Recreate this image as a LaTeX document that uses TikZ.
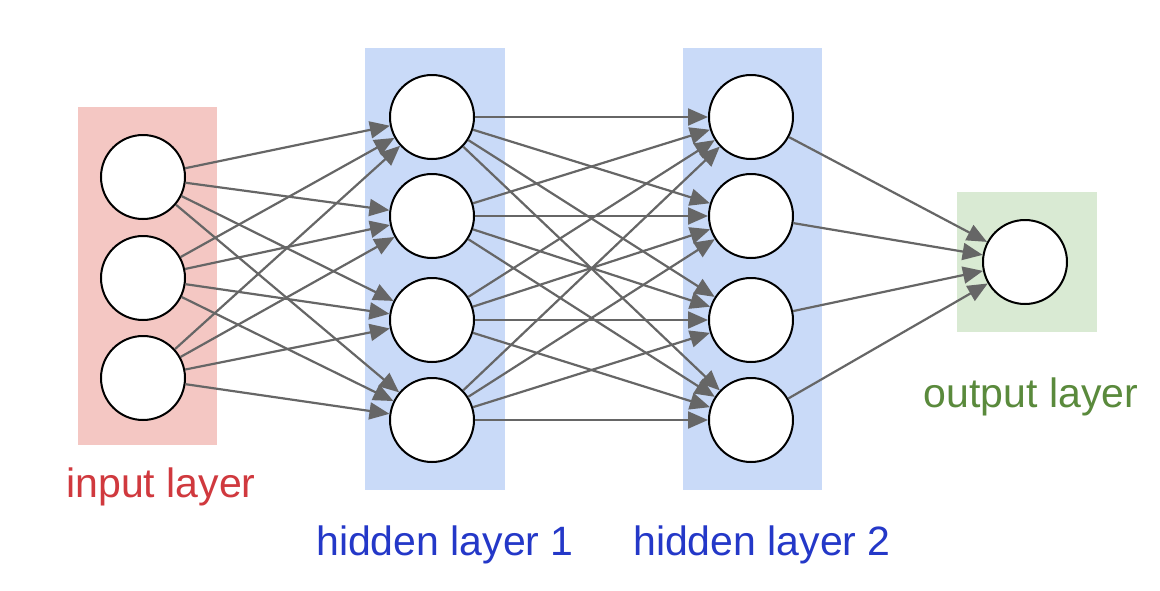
\documentclass[tikz,border=0pt]{standalone}
\usepackage{fontspec}
\setmainfont{Liberation Sans}
\usetikzlibrary{arrows.meta}
\definecolor{pinkbg}{HTML}{F4C7C3}
\definecolor{bluebg}{HTML}{C9DAF8}
\definecolor{greenbg}{HTML}{D9EAD3}
\definecolor{redtxt}{HTML}{D0393E}
\definecolor{bluetxt}{HTML}{2438C8}
\definecolor{greentxt}{HTML}{5A8A3C}
\begin{document}
\begin{tikzpicture}[x=1pt,y=-1pt,
  neuron/.style={circle,draw=black,line width=2pt,fill=white,minimum size=84pt,inner sep=0pt},
  conn/.style={draw=black!60,line width=2.2pt,-{Triangle[length=20pt,width=17pt]}},
  lab/.style={font=\fontsize{41}{44}\selectfont}]
\useasboundingbox (0,0) rectangle (1160,590);
\fill[white] (0,0) rectangle (1160,590);
\fill[pinkbg] (78,107) rectangle (217,445);
\fill[bluebg] (365,48) rectangle (505,490);
\fill[bluebg] (683,48) rectangle (822,490);
\fill[greenbg] (957,192) rectangle (1097,332);
\foreach \i/\y in {1/177,2/278,3/378} \node[neuron] (i\i) at (143,\y) {};
\foreach \i/\y in {1/117,2/216,3/320,4/420} {
  \node[neuron] (a\i) at (432,\y) {};
  \node[neuron] (b\i) at (751,\y) {};}
\node[neuron] (o) at (1025,262) {};
\foreach \s in {1,2,3} \foreach \t in {1,2,3,4} \draw[conn] (i\s) -- (a\t);
\foreach \s in {1,2,3,4} \foreach \t in {1,2,3,4} \draw[conn] (a\s) -- (b\t);
\foreach \s in {1,2,3,4} \draw[conn] (b\s) -- (o);
\node[lab,text=redtxt] (li) at (161,487) {input layer};
\node[lab,text=bluetxt] (lh1) at (445,545) {hidden layer 1};
\node[lab,text=bluetxt] (lh2) at (762,545) {hidden layer 2};
\node[lab,text=greentxt] (lo) at (1031,397) {output layer};
\end{tikzpicture}
\end{document}
